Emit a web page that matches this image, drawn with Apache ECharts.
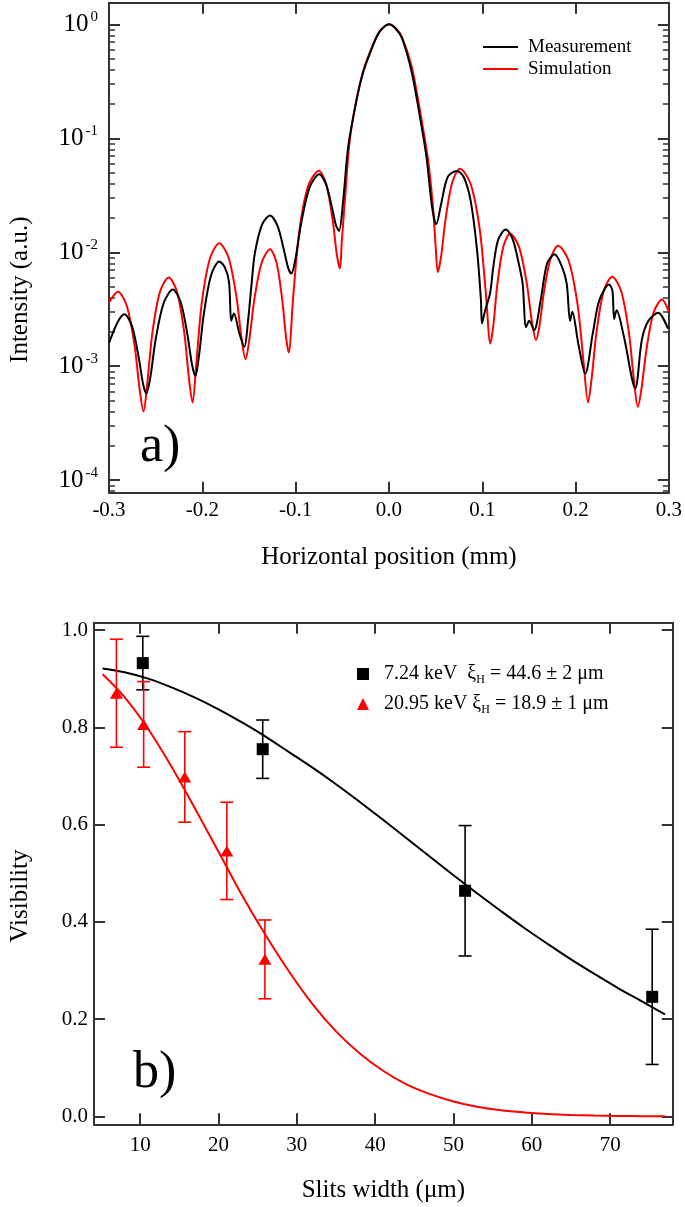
<!DOCTYPE html>
<html><head><meta charset="utf-8">
<script src="https://cdn.jsdelivr.net/npm/echarts@6/dist/echarts.min.js"></script>
<style>html,body{margin:0;padding:0;background:#fff}#c{width:685px;height:1207px}</style>
</head><body><div id="c"></div><script>
// ---------- Panel a) : intensity profiles (x in mm, intensity in a.u.) ----------
const measX = [-0.3,-0.2905,-0.2835,-0.2753,-0.2682,-0.2635,-0.26,-0.2557,-0.2501,-0.2415,-0.2316,-0.2231,-0.2159,-0.211,-0.2074,-0.2036,-0.1984,-0.1907,-0.1818,-0.176,-0.1714,-0.169,-0.1662,-0.16,-0.1549,-0.151,-0.147,-0.1437,-0.136,-0.1274,-0.1194,-0.1126,-0.108,-0.1046,-0.1001,-0.0941,-0.0851,-0.0747,-0.0673,-0.0609,-0.0567,-0.0535,-0.049,-0.0437,-0.035,-0.028,-0.021,-0.0105,0,0.007,0.014,0.0244,0.0332,0.0402,0.0462,0.0507,0.056,0.063,0.0727,0.08,0.0874,0.0944,0.0986,0.0997,0.1031,0.1084,0.1119,0.1171,0.1252,0.1328,0.1398,0.1433,0.1469,0.1503,0.1556,0.1626,0.1695,0.1776,0.1853,0.1905,0.1941,0.1965,0.2028,0.2104,0.2185,0.2255,0.236,0.2395,0.2413,0.244,0.2518,0.264,0.271,0.278,0.2885,0.299];
const measY = [1.6e-3,2.46e-3,2.86e-3,2.24e-3,1.2e-3,7.0e-4,5.75e-4,8.0e-4,1.7e-3,3.57e-3,4.7e-3,3.64e-3,1.88e-3,1.03e-3,8.2e-4,1.23e-3,2.86e-3,6.26e-3,8.3e-3,7.4e-3,5.5e-3,2.5e-3,2.9e-3,1.9e-3,1.48e-3,2.5e-3,5.5e-3,9.8e-3,1.75e-2,2.1e-2,1.7e-2,1.05e-2,7.3e-3,6.5e-3,8.8e-3,1.79e-2,3.69e-2,4.83e-2,3.93e-2,2.44e-2,1.72e-2,1.54e-2,2.86e-2,8.4e-2,0.21,0.37,0.54,0.85,1.0,0.92,0.758,0.382,0.154,0.0686,0.025,0.0176,0.0267,0.0458,0.0517,0.046,0.0288,0.0105,3.8e-3,2.37e-3,3.1e-3,4.37e-3,7.5e-3,1.29e-2,1.58e-2,1.29e-2,7.5e-3,5.3e-3,2.2e-3,2.5e-3,2.07e-3,3.8e-3,8.0e-3,9.6e-3,7.5e-3,5.3e-3,2.5e-3,3.0e-3,1.6e-3,8.6e-4,1.95e-3,3.8e-3,5.2e-3,4.6e-3,2.6e-3,3.1e-3,1.82e-3,6.4e-4,1.7e-3,2.5e-3,2.94e-3,2.14e-3];
const simX = [-0.3,-0.2905,-0.2809,-0.2726,-0.2671,-0.263,-0.259,-0.2536,-0.2455,-0.236,-0.2271,-0.2194,-0.2143,-0.2105,-0.2062,-0.2005,-0.1918,-0.1818,-0.172,-0.1635,-0.1579,-0.1537,-0.1498,-0.1445,-0.1366,-0.1274,-0.1204,-0.1144,-0.1104,-0.1074,-0.1026,-0.0961,-0.0865,-0.0752,-0.0673,-0.0604,-0.0559,-0.0525,-0.0505,-0.0472,-0.042,-0.035,-0.028,-0.021,-0.0105,0,0.007,0.014,0.0245,0.0332,0.042,0.0472,0.05,0.0524,0.056,0.0607,0.0679,0.0762,0.0876,0.0973,0.1038,0.1087,0.1119,0.1161,0.1224,0.1298,0.1395,0.1479,0.1534,0.1576,0.1612,0.1659,0.1731,0.1814,0.1926,0.2022,0.2086,0.2134,0.2173,0.2225,0.2302,0.2393,0.2489,0.2571,0.2626,0.2667,0.2706,0.2758,0.2834,0.2926,0.3];
const simY = [3.6e-3,4.5e-3,3.38e-3,1.52e-3,6.2e-4,4.0e-4,7.05e-4,1.93e-3,4.47e-3,6.0e-3,4.49e-3,1.99e-3,7.8e-4,4.8e-4,1.11e-3,3.63e-3,8.85e-3,1.2e-2,9.04e-3,4.11e-3,1.74e-3,1.15e-3,1.67e-3,3.73e-3,8.02e-3,1.06e-2,8.07e-3,3.85e-3,1.83e-3,1.32e-3,4.08e-3,1.52e-2,3.82e-2,5.2e-2,3.98e-2,1.94e-2,9.6e-3,7.2e-3,1.25e-2,2.86e-2,9.6e-2,0.215,0.38,0.553,0.856,1.0,0.93,0.774,0.422,0.176,0.064,0.025,0.0115,6.7e-3,9.3e-3,1.96e-2,4.11e-2,5.4e-2,3.97e-2,1.59e-2,4.43e-3,1.58e-3,2.29e-3,5.14e-3,1.1e-2,1.46e-2,1.11e-2,5.23e-3,2.4e-3,1.7e-3,2.23e-3,4.35e-3,8.75e-3,1.14e-2,8.42e-3,3.46e-3,1.08e-3,4.8e-4,7.9e-4,2.01e-3,4.57e-3,6.1e-3,4.55e-3,1.99e-3,7.5e-4,4.4e-4,6.3e-4,1.37e-3,2.92e-3,3.85e-3,3.0e-3];
const decadeExps = [-4, -3, -2, -1, 0];          // major ticks: 10^exp
const minorMantissas = [2, 3, 4, 5, 6, 7, 8, 9];  // minor ticks inside each decade

// ---------- Panel b) : visibility vs slit width ----------
const width724 = [10.33, 25.64, 51.48, 75.37];
const vis724   = [0.932, 0.755, 0.464, 0.246];
const err724   = [0.055, 0.060, 0.134, 0.139];
const width2095 = [6.96, 10.44, 15.69, 21.06, 25.92];
const vis2095   = [0.870, 0.806, 0.698, 0.546, 0.323];
const err2095   = [0.111, 0.088, 0.093, 0.100, 0.081];
const fit724X = [5.2, 8, 11, 14, 17, 20, 23, 26, 29, 32, 35, 38, 41, 44, 47, 50, 53, 56, 59, 62, 65, 68, 71, 74, 77];
const fit724Y = [0.921, 0.913, 0.900, 0.882, 0.861, 0.837, 0.810, 0.781, 0.749, 0.717, 0.683, 0.647, 0.610, 0.572, 0.534, 0.496, 0.459, 0.423, 0.388, 0.355, 0.323, 0.293, 0.264, 0.237, 0.210];
const fit2095X = [5.2, 8, 11, 14, 17, 20, 23, 26, 29, 32, 35, 38, 41, 44, 47, 50, 53, 56, 59, 62, 65, 68, 71, 74, 77];
const fit2095Y = [0.909, 0.862, 0.797, 0.719, 0.633, 0.544, 0.455, 0.373, 0.298, 0.231, 0.175, 0.130, 0.094, 0.066, 0.046, 0.031, 0.020, 0.013, 0.0085, 0.0053, 0.0033, 0.002, 0.0012, 0.0007, 0.0004];
const slitTicks = [10, 20, 30, 40, 50, 60, 70];
const visTicks = [0, 0.2, 0.4, 0.6, 0.8, 1.0];
const legendText = {
  '7.24 keV': '7.24 keV  ξ{sub|H} = 44.6 ± 2 μm',
  '20.95 keV': '20.95 keV ξ{sub|H} = 18.9 ± 1 μm'
};

// ---------- build ----------
const FONT = 'Liberation Serif';
const AX = '#333';
const RED = '#ff0000';
const lg = v => Math.log10(v);
const minorVals = [];
for (let e = -5; e <= 0; e++) minorMantissas.forEach(m => minorVals.push(e + lg(m)));
const YA_MIN = -4.11, YA_MAX = 0.19;
const XB_MIN = 4.1, XB_MAX = 78;
const YB_MIN = -0.016, YB_MAX = 1.015;

const axLine = {onZero: false, lineStyle: {color: AX, width: 2}};
const tickStyle = {color: AX, width: 2};
const lblBase = {fontFamily: FONT, fontSize: 21, color: '#000'};
const nameStyle = {fontFamily: FONT, fontSize: 25, color: '#000'};

function yAxA(position, major, withLabel) {
  const a = {
    gridIndex: 0, type: 'value', min: YA_MIN, max: YA_MAX, position: position,
    axisLine: major ? axLine : {show: false, onZero: false},
    axisTick: {inside: true, length: major ? 11 : 6, customValues: major ? decadeExps : minorVals,
               lineStyle: {color: AX, width: major ? 2 : 1.5}},
    axisLabel: {show: false}, splitLine: {show: false}
  };
  if (withLabel) {
    a.axisLabel = {
      show: true, customValues: decadeExps, margin: 11,
      formatter: v => '{b|10}{e|' + Math.round(v) + '}',
      rich: {
        b: {fontFamily: FONT, fontSize: 25, color: '#000', lineHeight: 30},
        e: {fontFamily: FONT, fontSize: 15, color: '#000', lineHeight: 15, verticalAlign: 'top', padding: [0, 0, 0, 2]}
      }
    };
    a.name = 'Intensity (a.u.)';
    a.nameLocation = 'middle';
    a.nameGap = 76;
    a.nameTextStyle = Object.assign({padding: [0, 84, 0, 0]}, nameStyle);
  }
  return a;
}
function xAxA(position, withLabel) {
  const a = {
    gridIndex: 0, type: 'value', min: -0.3, max: 0.3, interval: 0.1, position: position,
    axisLine: axLine, axisTick: {inside: true, length: 11, lineStyle: tickStyle},
    axisLabel: {show: false}, splitLine: {show: false}
  };
  if (withLabel) {
    a.axisLabel = Object.assign({show: true, margin: 7, showMinLabel: true, showMaxLabel: true,
      formatter: v => Math.abs(v) < 1e-9 ? '0.0' : v.toFixed(1)}, lblBase);
    a.name = 'Horizontal position (mm)';
    a.nameLocation = 'middle';
    a.nameGap = 52;
    a.nameTextStyle = nameStyle;
  }
  return a;
}
function xAxB(position, withLabel) {
  const a = {
    gridIndex: 1, type: 'value', min: XB_MIN, max: XB_MAX, position: position,
    axisLine: axLine, axisTick: {inside: true, length: 11, customValues: slitTicks, lineStyle: tickStyle},
    axisLabel: {show: false}, splitLine: {show: false}
  };
  if (withLabel) {
    a.axisLabel = Object.assign({show: true, margin: 11, customValues: slitTicks}, lblBase);
    a.name = 'Slits width (μm)';
    a.nameLocation = 'middle';
    a.nameGap = 54;
    a.nameTextStyle = nameStyle;
  }
  return a;
}
function yAxB(position, withLabel) {
  const a = {
    gridIndex: 1, type: 'value', min: YB_MIN, max: YB_MAX, position: position,
    axisLine: axLine, axisTick: {inside: true, length: 11, customValues: visTicks, lineStyle: tickStyle},
    axisLabel: {show: false}, splitLine: {show: false}
  };
  if (withLabel) {
    a.axisLabel = Object.assign({show: true, margin: 6, customValues: visTicks,
      formatter: v => v.toFixed(1)}, lblBase);
    a.name = 'Visibility';
    a.nameLocation = 'middle';
    a.nameGap = 61;
    a.nameTextStyle = Object.assign({padding: [0, 45, 0, 0]}, nameStyle);
  }
  return a;
}

function errorBars(name, xs, ys, es, color) {
  return {
    name: name, type: 'custom', xAxisIndex: 2, yAxisIndex: 4, z: 3,
    data: xs.map((x, i) => [x, ys[i], es[i]]),
    encode: {x: 0, y: 1},
    renderItem: (params, api) => {
      const x = api.value(0), y = api.value(1), e = api.value(2);
      const t = api.coord([x, y + e]), b = api.coord([x, y - e]);
      const cap = 6.5, st = {stroke: color, lineWidth: 1.6};
      return {type: 'group', children: [
        {type: 'line', shape: {x1: t[0], y1: t[1], x2: b[0], y2: b[1]}, style: st},
        {type: 'line', shape: {x1: t[0] - cap, y1: t[1], x2: t[0] + cap, y2: t[1]}, style: st},
        {type: 'line', shape: {x1: b[0] - cap, y1: b[1], x2: b[0] + cap, y2: b[1]}, style: st}
      ]};
    }
  };
}

const option = {
  animation: false,
  backgroundColor: '#fff',
  title: [
    {text: 'a)', left: 140, top: 421, padding: 0, textStyle: {fontFamily: FONT, fontSize: 52, fontWeight: 'normal', color: '#000'}},
    {text: 'b)', left: 133, top: 1047, padding: 0, textStyle: {fontFamily: FONT, fontSize: 52, fontWeight: 'normal', color: '#000'}}
  ],
  grid: [
    {left: 101.7, right: 12.3, top: 2.7, height: 490},
    {left: 88.3, right: 12.2, top: 622.7, height: 501.6}
  ],
  legend: [
    {data: ['Measurement', 'Simulation'], orient: 'vertical', left: 478, top: 32, icon: 'rect',
     itemWidth: 35, itemHeight: 2, itemGap: 2,
     textStyle: {fontFamily: FONT, fontSize: 19, color: '#000', lineHeight: 20, padding: [0, 0, 0, 5]}},
    {data: ['7.24 keV', '20.95 keV'], orient: 'vertical', left: 352, top: 659, itemWidth: 12, itemHeight: 12, itemGap: 8,
     formatter: n => legendText[n],
     textStyle: {fontFamily: FONT, fontSize: 20, color: '#000', lineHeight: 20, padding: [0, 0, 0, 10],
       rich: {sub: {fontFamily: FONT, fontSize: 12, color: '#000', lineHeight: 12, verticalAlign: 'top', padding: [10, 0, 0, 0]}}}}
  ],
  xAxis: [xAxA('bottom', true), xAxA('top', false), xAxB('bottom', true), xAxB('top', false)],
  yAxis: [yAxA('left', true, true), yAxA('left', false, false), yAxA('right', true, false), yAxA('right', false, false),
          yAxB('left', true), yAxB('right', false)],
  series: [
    {name: 'Measurement', type: 'line', xAxisIndex: 0, yAxisIndex: 0, symbol: 'none', smooth: 0.3,
     lineStyle: {color: '#000', width: 2}, itemStyle: {color: '#000'}, z: 3,
     data: measX.map((x, i) => [x, lg(measY[i])])},
    {name: 'Simulation', type: 'line', xAxisIndex: 0, yAxisIndex: 0, symbol: 'none', smooth: 0.3,
     lineStyle: {color: RED, width: 2}, itemStyle: {color: RED}, z: 2,
     data: simX.map((x, i) => [x, lg(simY[i])])},
    {name: 'fit 7.24', type: 'line', xAxisIndex: 2, yAxisIndex: 4, symbol: 'none', smooth: 0.35,
     lineStyle: {color: '#000', width: 2}, z: 2, data: fit724X.map((x, i) => [x, fit724Y[i]])},
    {name: 'fit 20.95', type: 'line', xAxisIndex: 2, yAxisIndex: 4, symbol: 'none', smooth: 0.35,
     lineStyle: {color: RED, width: 2}, z: 2, data: fit2095X.map((x, i) => [x, fit2095Y[i]])},
    errorBars('err 7.24', width724, vis724, err724, '#000'),
    errorBars('err 20.95', width2095, vis2095, err2095, RED),
    {name: '7.24 keV', type: 'scatter', xAxisIndex: 2, yAxisIndex: 4, symbol: 'rect', symbolSize: 12,
     itemStyle: {color: '#000', opacity: 1}, z: 4, data: width724.map((x, i) => [x, vis724[i]])},
    {name: '20.95 keV', type: 'scatter', xAxisIndex: 2, yAxisIndex: 4, symbol: 'triangle', symbolSize: [13, 11],
     itemStyle: {color: RED, opacity: 1}, z: 4, data: width2095.map((x, i) => [x, vis2095[i]])}
  ]
};
const chart = echarts.init(document.getElementById('c'), null, {renderer: 'canvas'});
chart.setOption(option);
</script></body></html>
